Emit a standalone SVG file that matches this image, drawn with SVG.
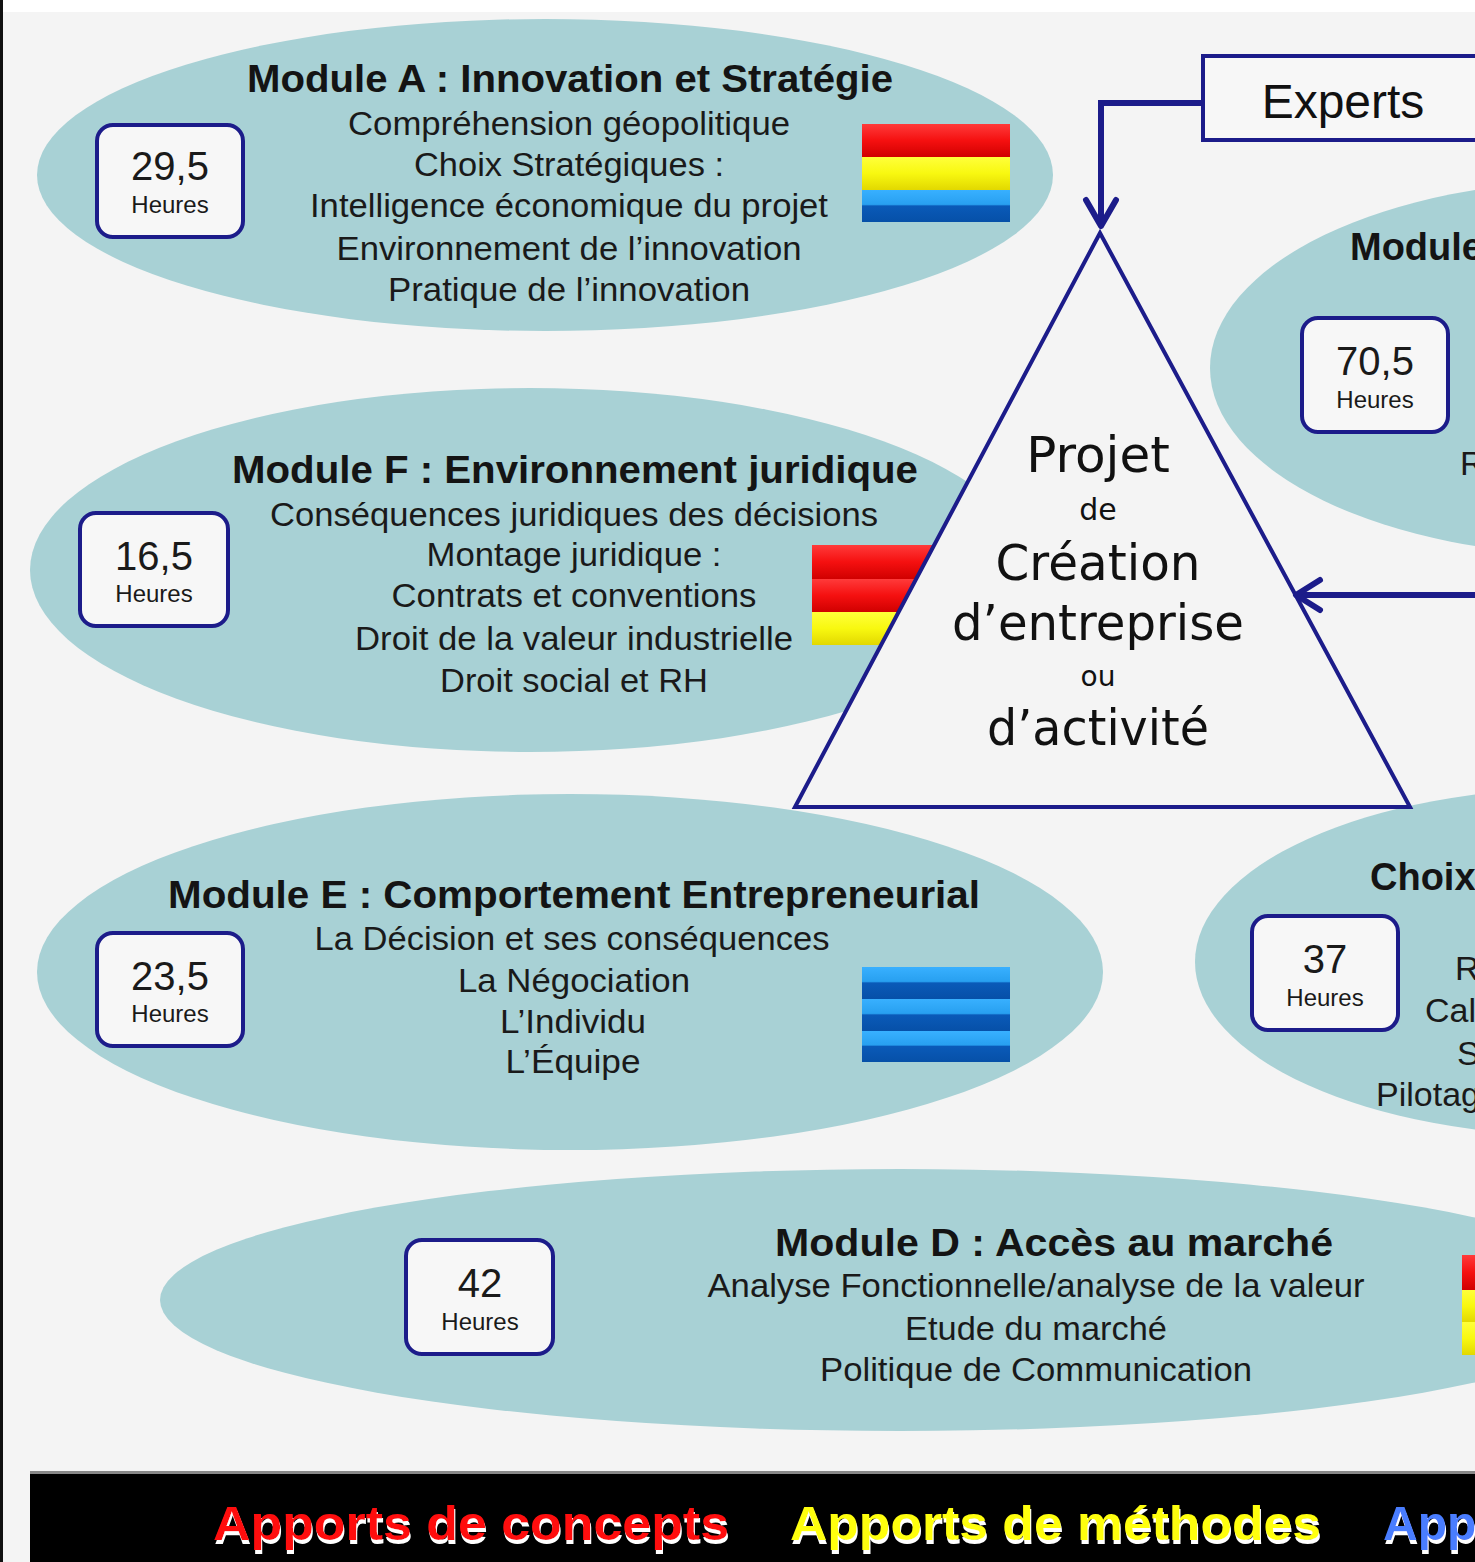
<svg xmlns="http://www.w3.org/2000/svg" width="1475" height="1562" viewBox="0 0 1475 1562">
<defs>
<style>
.bg{fill:#f4f4f4}
.ell{fill:#a8d1d5}
.hbox{fill:#f7f7f7;stroke:#1c1c8a;stroke-width:4}
.num{font-family:"Liberation Sans",Arial,sans-serif;font-size:40px;fill:#1a1a1a;text-anchor:middle}
.heu{font-family:"Liberation Sans",Arial,sans-serif;font-size:24px;fill:#1a1a1a;text-anchor:middle}
.ttl{font-family:"Liberation Sans",Arial,sans-serif;font-size:38px;font-weight:bold;fill:#141414;text-anchor:middle}
.ln{font-family:"Liberation Sans",Arial,sans-serif;font-size:34px;fill:#1a1a1a;text-anchor:middle}
.lnl{font-family:"Liberation Sans",Arial,sans-serif;font-size:34px;fill:#1a1a1a}
.ttll{font-family:"Liberation Sans",Arial,sans-serif;font-size:38px;font-weight:bold;fill:#141414}
.tri{font-family:"DejaVu Sans",sans-serif;fill:#111;text-anchor:middle}
.con{fill:none;stroke:#1c1c8a;stroke-width:6}
.ban{font-family:"Liberation Sans",Arial,sans-serif;font-size:48px;font-weight:bold;filter:url(#wsh)}
</style>
<filter id="wsh" x="-5%" y="-20%" width="110%" height="150%">
<feFlood flood-color="#ffffff" result="w"/>
<feComposite in="w" in2="SourceAlpha" operator="in" result="wa"/>
<feOffset in="wa" dx="1" dy="4" result="off"/>
<feMerge><feMergeNode in="off"/><feMergeNode in="SourceGraphic"/></feMerge>
</filter>
<linearGradient id="gR" x1="0" y1="0" x2="0" y2="1"><stop offset="0" stop-color="#ff3a3a"/><stop offset="0.5" stop-color="#f51010"/><stop offset="1" stop-color="#d00000"/></linearGradient>
<linearGradient id="gY" x1="0" y1="0" x2="0" y2="1"><stop offset="0" stop-color="#ffff3a"/><stop offset="0.5" stop-color="#f8f810"/><stop offset="1" stop-color="#e2d800"/></linearGradient>
<linearGradient id="gB" x1="0" y1="0" x2="0" y2="1"><stop offset="0" stop-color="#38b0ff"/><stop offset="0.45" stop-color="#28a0f0"/><stop offset="0.5" stop-color="#0a5ab8"/><stop offset="1" stop-color="#0650a8"/></linearGradient>
</defs>

<rect x="0" y="0" width="1475" height="1562" fill="#ffffff"/>
<rect class="bg" x="3" y="12" width="1472" height="1550"/>
<rect x="0" y="0" width="3" height="1562" fill="#111"/>

<g id="ellipses">
<ellipse class="ell" cx="545" cy="175" rx="508" ry="156"/>
<ellipse class="ell" cx="530" cy="570" rx="500" ry="182"/>
<ellipse class="ell" cx="570" cy="972" rx="533" ry="178"/>
<ellipse class="ell" cx="900" cy="1300" rx="740" ry="131"/>
<ellipse class="ell" cx="1600" cy="368" rx="390" ry="188"/>
<ellipse class="ell" cx="1580" cy="962" rx="385" ry="174"/>
</g>

<g id="moduleA">
<rect class="hbox" x="97" y="125" width="146" height="112" rx="16"/>
<text class="num" x="170" y="180">29,5</text>
<text class="heu" x="170" y="213">Heures</text>
<text class="ttl" x="570" y="92" textLength="646" lengthAdjust="spacingAndGlyphs">Module A : Innovation et Stratégie</text>
<text class="ln" x="569" y="135" textLength="442" lengthAdjust="spacingAndGlyphs">Compréhension géopolitique</text>
<text class="ln" x="569" y="176" textLength="310" lengthAdjust="spacingAndGlyphs">Choix Stratégiques :</text>
<text class="ln" x="569" y="217" textLength="518" lengthAdjust="spacingAndGlyphs">Intelligence économique du projet</text>
<text class="ln" x="569" y="260" textLength="465" lengthAdjust="spacingAndGlyphs">Environnement de l’innovation</text>
<text class="ln" x="569" y="301" textLength="362" lengthAdjust="spacingAndGlyphs">Pratique de l’innovation</text>
<rect x="862" y="124" width="148" height="33" fill="url(#gR)"/>
<rect x="862" y="157" width="148" height="33" fill="url(#gY)"/>
<rect x="862" y="190" width="148" height="32" fill="url(#gB)"/>
</g>

<g id="moduleF">
<rect class="hbox" x="80" y="513" width="148" height="113" rx="16"/>
<text class="num" x="154" y="570">16,5</text>
<text class="heu" x="154" y="602">Heures</text>
<text class="ttl" x="575" y="483" textLength="686" lengthAdjust="spacingAndGlyphs">Module F : Environnement juridique</text>
<text class="ln" x="574" y="526" textLength="608" lengthAdjust="spacingAndGlyphs">Conséquences juridiques des décisions</text>
<text class="ln" x="574" y="566" textLength="295" lengthAdjust="spacingAndGlyphs">Montage juridique :</text>
<text class="ln" x="574" y="607" textLength="365" lengthAdjust="spacingAndGlyphs">Contrats et conventions</text>
<text class="ln" x="574" y="650" textLength="438" lengthAdjust="spacingAndGlyphs">Droit de la valeur industrielle</text>
<text class="ln" x="574" y="692" textLength="268" lengthAdjust="spacingAndGlyphs">Droit social et RH</text>
<rect x="812" y="545" width="148" height="34" fill="url(#gR)"/>
<rect x="812" y="579" width="148" height="33" fill="url(#gR)"/>
<rect x="812" y="612" width="148" height="33" fill="url(#gY)"/>
</g>

<g id="moduleE">
<rect class="hbox" x="97" y="933" width="146" height="113" rx="16"/>
<text class="num" x="170" y="990">23,5</text>
<text class="heu" x="170" y="1022">Heures</text>
<text class="ttl" x="574" y="908" textLength="812" lengthAdjust="spacingAndGlyphs">Module E : Comportement Entrepreneurial</text>
<text class="ln" x="572" y="950" textLength="515" lengthAdjust="spacingAndGlyphs">La Décision et ses conséquences</text>
<text class="ln" x="574" y="992" textLength="232" lengthAdjust="spacingAndGlyphs">La Négociation</text>
<text class="ln" x="573" y="1033" textLength="146" lengthAdjust="spacingAndGlyphs">L’Individu</text>
<text class="ln" x="573" y="1073" textLength="135" lengthAdjust="spacingAndGlyphs">L’Équipe</text>
<rect x="862" y="967" width="148" height="32" fill="url(#gB)"/>
<rect x="862" y="999" width="148" height="32" fill="url(#gB)"/>
<rect x="862" y="1031" width="148" height="31" fill="url(#gB)"/>
</g>

<g id="moduleD">
<rect class="hbox" x="406" y="1240" width="147" height="114" rx="16"/>
<text class="num" x="480" y="1297">42</text>
<text class="heu" x="480" y="1330">Heures</text>
<text class="ttl" x="1054" y="1256" textLength="558" lengthAdjust="spacingAndGlyphs">Module D :  Accès au marché</text>
<text class="ln" x="1036" y="1297" textLength="657" lengthAdjust="spacingAndGlyphs">Analyse Fonctionnelle/analyse de la valeur</text>
<text class="ln" x="1036" y="1340" textLength="262" lengthAdjust="spacingAndGlyphs">Etude du marché</text>
<text class="ln" x="1036" y="1381" textLength="432" lengthAdjust="spacingAndGlyphs">Politique de Communication</text>
<rect x="1462" y="1255" width="148" height="35" fill="url(#gR)"/>
<rect x="1462" y="1290" width="148" height="32" fill="url(#gY)"/>
<rect x="1462" y="1322" width="148" height="33" fill="url(#gY)"/>
</g>

<g id="moduleB">
<rect class="hbox" x="1302" y="318" width="146" height="114" rx="16"/>
<text class="num" x="1375" y="375">70,5</text>
<text class="heu" x="1375" y="408">Heures</text>
<text class="ttll" x="1350" y="260">Module</text>
<text class="lnl" x="1460" y="475">R</text>
</g>

<g id="moduleC">
<rect class="hbox" x="1252" y="916" width="146" height="114" rx="16"/>
<text class="num" x="1325" y="973">37</text>
<text class="heu" x="1325" y="1006">Heures</text>
<text class="ttll" x="1370" y="890">Choix</text>
<text class="lnl" x="1455" y="980">R</text>
<text class="lnl" x="1425" y="1022">Cal</text>
<text class="lnl" x="1457" y="1065">S</text>
<text class="lnl" x="1376" y="1106">Pilotag</text>
</g>

<g id="projet">
<polygon points="1100,233 795,807 1410,807" fill="#f4f4f4" stroke="#1c1c8a" stroke-width="4"/>
<text class="tri" x="1098" y="472" font-size="50">Projet</text>
<text class="tri" x="1098" y="520" font-size="30">de</text>
<text class="tri" x="1098" y="580" font-size="50" textLength="205" lengthAdjust="spacingAndGlyphs">Création</text>
<text class="tri" x="1098" y="640" font-size="50" textLength="292" lengthAdjust="spacingAndGlyphs">d’entreprise</text>
<text class="tri" x="1098" y="686" font-size="28">ou</text>
<text class="tri" x="1098" y="745" font-size="50" textLength="222" lengthAdjust="spacingAndGlyphs">d’activité</text>
</g>

<g id="experts">
<rect x="1203" y="56" width="320" height="84" fill="#f7f7f7" stroke="#1c1c8a" stroke-width="4"/>
<text x="1343" y="118" font-family="Liberation Sans, Arial, sans-serif" font-size="48" fill="#111" text-anchor="middle">Experts</text>
</g>

<g id="connectors">
<polyline class="con" points="1203,103 1101,103 1101,226"/>
<polyline class="con" points="1086,200 1101,226 1116,200" stroke-linecap="round" stroke-linejoin="round"/>
<line class="con" x1="1475" y1="595" x2="1298" y2="595"/>
<polyline class="con" points="1320,580 1296,595 1320,610" stroke-linecap="round" stroke-linejoin="round"/>
</g>

<g id="banner">
<rect x="30" y="1471" width="1445" height="3" fill="#888"/>
<rect x="30" y="1474" width="1445" height="88" fill="#000"/>
<text class="ban" x="213" y="1540" fill="#ff1010" textLength="516" lengthAdjust="spacingAndGlyphs">Apports de concepts</text>
<text class="ban" x="790" y="1540" fill="#ffff10" textLength="531" lengthAdjust="spacingAndGlyphs">Apports de méthodes</text>
<text class="ban" x="1383" y="1540" fill="#4a7dff">Apports</text>
</g>
</svg>
